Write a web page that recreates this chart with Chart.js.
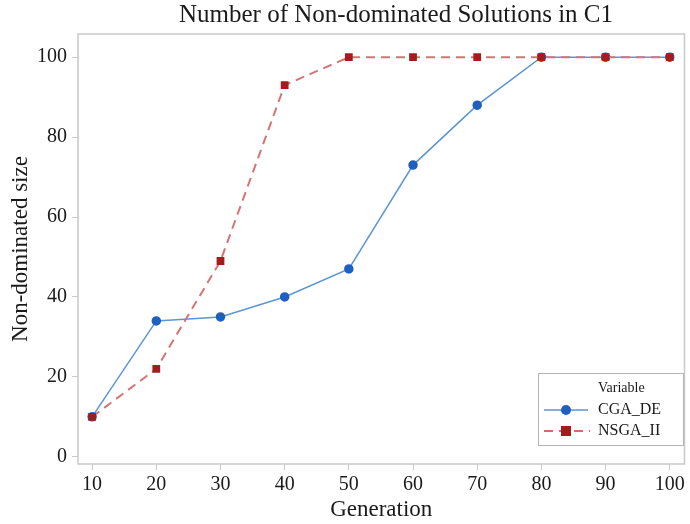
<!DOCTYPE html>
<html>
<head>
<meta charset="utf-8">
<script src="https://cdn.jsdelivr.net/npm/chart.js@4"></script>
<style>
  html, body { margin: 0; padding: 0; background: #fff; }
  #wrap { width: 690px; height: 524px; }
</style>
</head>
<body>
<div id="wrap"><canvas id="nonDomChart"></canvas></div>
<script>
const generations = [10, 20, 30, 40, 50, 60, 70, 80, 90, 100];
const cgaDe = [10, 34, 35, 40, 47, 73, 88, 100, 100, 100];
const nsgaII = [10, 22, 49, 93, 100, 100, 100, 100, 100, 100];
const yTicks = [0, 20, 40, 60, 80, 100];

const serif = '"Liberation Serif", "Times New Roman", serif';
const frameGrey = '#c9c9c9';

const toPoints = (vals) => generations.map((g, i) => ({ x: g, y: vals[i] }));

// frame, title and legend box drawn on top of the chart area
const decor = {
    id: 'decor',
    afterDraw(chart) {
        const { ctx, chartArea: a } = chart;
        ctx.save();
        ctx.strokeStyle = frameGrey;
        ctx.lineWidth = 1.5;
        ctx.strokeRect(a.left, a.top, a.right - a.left, a.bottom - a.top);

        ctx.fillStyle = '#1a1a1a';
        ctx.font = '25px ' + serif;
        ctx.textAlign = 'center';
        ctx.textBaseline = 'middle';
        ctx.fillText('Number of Non-dominated Solutions in C1', 396, 15);

        // legend
        const lx = 538, ly = 373, lw = 145, lh = 72;
        ctx.fillStyle = '#fff';
        ctx.fillRect(lx, ly, lw, lh);
        ctx.strokeStyle = '#b5b5b5';
        ctx.lineWidth = 1;
        ctx.strokeRect(lx + 0.5, ly + 0.5, lw, lh);

        ctx.fillStyle = '#1a1a1a';
        ctx.textAlign = 'left';
        ctx.font = '14px ' + serif;
        ctx.fillText('Variable', 598, 388);
        ctx.font = '16px ' + serif;
        ctx.fillText('CGA_DE', 598, 410);
        ctx.fillText('NSGA_II', 598, 431);

        // CGA_DE sample
        ctx.strokeStyle = '#5b95d6';
        ctx.lineWidth = 1.5;
        ctx.beginPath();
        ctx.moveTo(544, 410); ctx.lineTo(588, 410);
        ctx.stroke();
        ctx.fillStyle = '#1f5fbf';
        ctx.beginPath();
        ctx.arc(566, 410, 5, 0, Math.PI * 2);
        ctx.fill();

        // NSGA_II sample
        ctx.strokeStyle = '#d46a6a';
        ctx.lineWidth = 2;
        ctx.setLineDash([9, 6]);
        ctx.beginPath();
        ctx.moveTo(544, 431); ctx.lineTo(590, 431);
        ctx.stroke();
        ctx.setLineDash([]);
        ctx.fillStyle = '#a31d1d';
        ctx.fillRect(561, 426, 10, 10);
        ctx.restore();
    }
};

new Chart(document.getElementById('nonDomChart').getContext('2d'), {
    type: 'line',
    data: {
        datasets: [{
            label: 'CGA_DE',
            data: toPoints(cgaDe),
            order: 1,
            borderColor: '#5b95d6',
            borderWidth: 1.5,
            pointStyle: 'circle',
            pointRadius: 4,
            pointBackgroundColor: '#1f5fbf',
            pointBorderColor: '#1f5fbf',
            tension: 0
        }, {
            label: 'NSGA_II',
            data: toPoints(nsgaII),
            order: 0,
            borderColor: '#d67373',
            borderWidth: 2,
            borderDash: [9, 6],
            pointStyle: 'rect',
            pointRadius: 5.5,
            pointBorderWidth: 0,
            pointBackgroundColor: '#a31d1d',
            pointBorderColor: '#a31d1d',
            tension: 0
        }]
    },
    options: {
        responsive: true,
        maintainAspectRatio: false,
        animation: false,
        layout: { padding: { top: 34, right: 2, left: 0, bottom: 0 } },
        plugins: {
            legend: { display: false },
            title: { display: false },
            tooltip: { enabled: false }
        },
        scales: {
            x: {
                type: 'linear',
                min: 7.8,
                max: 102.3,
                afterBuildTicks: (s) => { s.ticks = generations.map(v => ({ value: v })); },
                afterFit: (s) => { s.height = 60; },
                grid: { drawOnChartArea: false, drawTicks: true, tickLength: 6, color: frameGrey },
                border: { display: false },
                ticks: { color: '#1a1a1a', font: { family: serif, size: 20 }, padding: 3, maxRotation: 0 },
                title: { display: true, text: 'Generation', color: '#1a1a1a', font: { family: serif, size: 23 }, padding: { top: 0, bottom: 0 } }
            },
            y: {
                min: -1.8,
                max: 105.8,
                afterBuildTicks: (s) => { s.ticks = yTicks.map(v => ({ value: v })); },
                afterFit: (s) => { s.width = 78; },
                grid: { drawOnChartArea: false, drawTicks: true, tickLength: 6, color: frameGrey },
                border: { display: false },
                ticks: { color: '#1a1a1a', font: { family: serif, size: 20 }, padding: 5 },
                title: { display: true, text: 'Non-dominated size', color: '#1a1a1a', font: { family: serif, size: 23 }, padding: { top: 7, bottom: 0 } }
            }
        }
    },
    plugins: [decor]
});
</script>
</body>
</html>
